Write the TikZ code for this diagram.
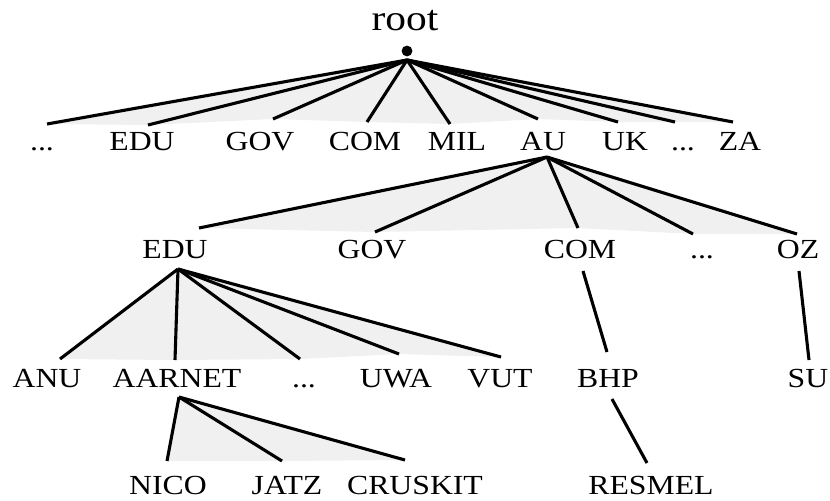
\documentclass[tikz,border=0pt]{standalone}
\usepackage{fontspec}
\setmainfont{Liberation Serif}[FakeStretch=1.15]

\newcommand\moredots{...}
\tikzset{
  lbl/.style={inner sep=0pt, anchor=base},
  edge/.style={line width=1.55pt},
  fan/.style={fill=black!6}
}

\begin{document}
\begin{tikzpicture}[x=0.5pt, y=-0.5pt, font=\fontsize{13.8}{16}\selectfont]
    \useasboundingbox (0,0) rectangle (830,500);

    % labels
    \node[lbl, font=\fontsize{18}{20}\selectfont] (root) at (405,30) {root};
    \node[circle, fill, inner sep=0pt, minimum size=5.4pt] (dot) at (407,51) {};
    \foreach \n/\x/\t in {dotsa/42/\moredots, edu/142/EDU, gov/260/GOV, com/365/COM, mil/457/MIL,
                          au/543/AU, uk/625/UK, dotsb/683/\moredots, za/740/ZA}
      \node[lbl] (top-\n) at (\x,150) {\t};
    \foreach \n/\x/\t in {edu/175/EDU, gov/372/GOV, com/580/COM, dots/702/\moredots, oz/798/OZ}
      \node[lbl] (au-\n) at (\x,258) {\t};
    \foreach \n/\x/\t in {anu/47/ANU, aarnet/177/AARNET, dots/304/\moredots, uwa/396/UWA,
                          vut/500/VUT, bhp/608/BHP, su/808/SU}
      \node[lbl] (sub-\n) at (\x,387) {\t};
    \foreach \n/\x/\t in {nico/168/NICO, jatz/287/JATZ, cruskit/415/CRUSKIT, resmel/651/RESMEL}
      \node[lbl] (leaf-\n) at (\x,494) {\t};

    % fan tops and ends
    \coordinate (top) at (407,60);
    \coordinate (au) at (547,157);
    \coordinate (edu) at (178,269);
    \coordinate (aarnet) at (179,397);
    \foreach \n/\x/\y in {dotsa/47/124, edu/148/125, gov/273/119, com/367/122, mil/450/124,
                          au/538/119, uk/618/122, dotsb/675/122, za/733/122}
      \coordinate (e-top-\n) at (\x,\y);
    \foreach \n/\x/\y in {edu/199/228, gov/375/232, com/578/228, dots/693/234, oz/797/234}
      \coordinate (e-au-\n) at (\x,\y);
    \foreach \n/\x/\y in {anu/60/359, aarnet/175/360, dots/300/359, uwa/399/354, vut/501/357}
      \coordinate (e-edu-\n) at (\x,\y);
    \foreach \n/\x/\y in {nico/167/461, jatz/282/461, cruskit/405/460}
      \coordinate (e-aarnet-\n) at (\x,\y);

    % grey fans
    \fill[fan] (top) -- (e-top-dotsa) -- (e-top-edu) -- (e-top-gov) -- (e-top-com) -- (e-top-mil)
      -- (e-top-au) -- (e-top-uk) -- (e-top-dotsb) -- (e-top-za) -- cycle;
    \fill[fan] (au) -- (e-au-edu) -- (e-au-gov) -- (e-au-com) -- (e-au-dots) -- (e-au-oz) -- cycle;
    \fill[fan] (edu) -- (e-edu-anu) -- (e-edu-aarnet) -- (e-edu-dots) -- (e-edu-uwa) -- (e-edu-vut) -- cycle;
    \fill[fan] (aarnet) -- (e-aarnet-nico) -- (e-aarnet-jatz) -- (e-aarnet-cruskit) -- cycle;

    % edges
    \foreach \n in {dotsa,edu,gov,com,mil,au,uk,dotsb,za}
      \draw[edge] (top) -- (e-top-\n);
    \foreach \n in {edu,gov,com,dots,oz}
      \draw[edge] (au) -- (e-au-\n);
    \foreach \n in {anu,aarnet,dots,uwa,vut}
      \draw[edge] (edu) -- (e-edu-\n);
    \foreach \n in {nico,jatz,cruskit}
      \draw[edge] (aarnet) -- (e-aarnet-\n);

    \coordinate (com-top) at (583,271);
    \coordinate (bhp-end) at (607,352);
    \coordinate (oz-top) at (799,271);
    \coordinate (su-end) at (809,360);
    \coordinate (bhp-top) at (612,399);
    \coordinate (resmel-end) at (647,463);
    \draw[edge] (com-top) -- (bhp-end);
    \draw[edge] (oz-top) -- (su-end);
    \draw[edge] (bhp-top) -- (resmel-end);
  \end{tikzpicture}
\end{document}
